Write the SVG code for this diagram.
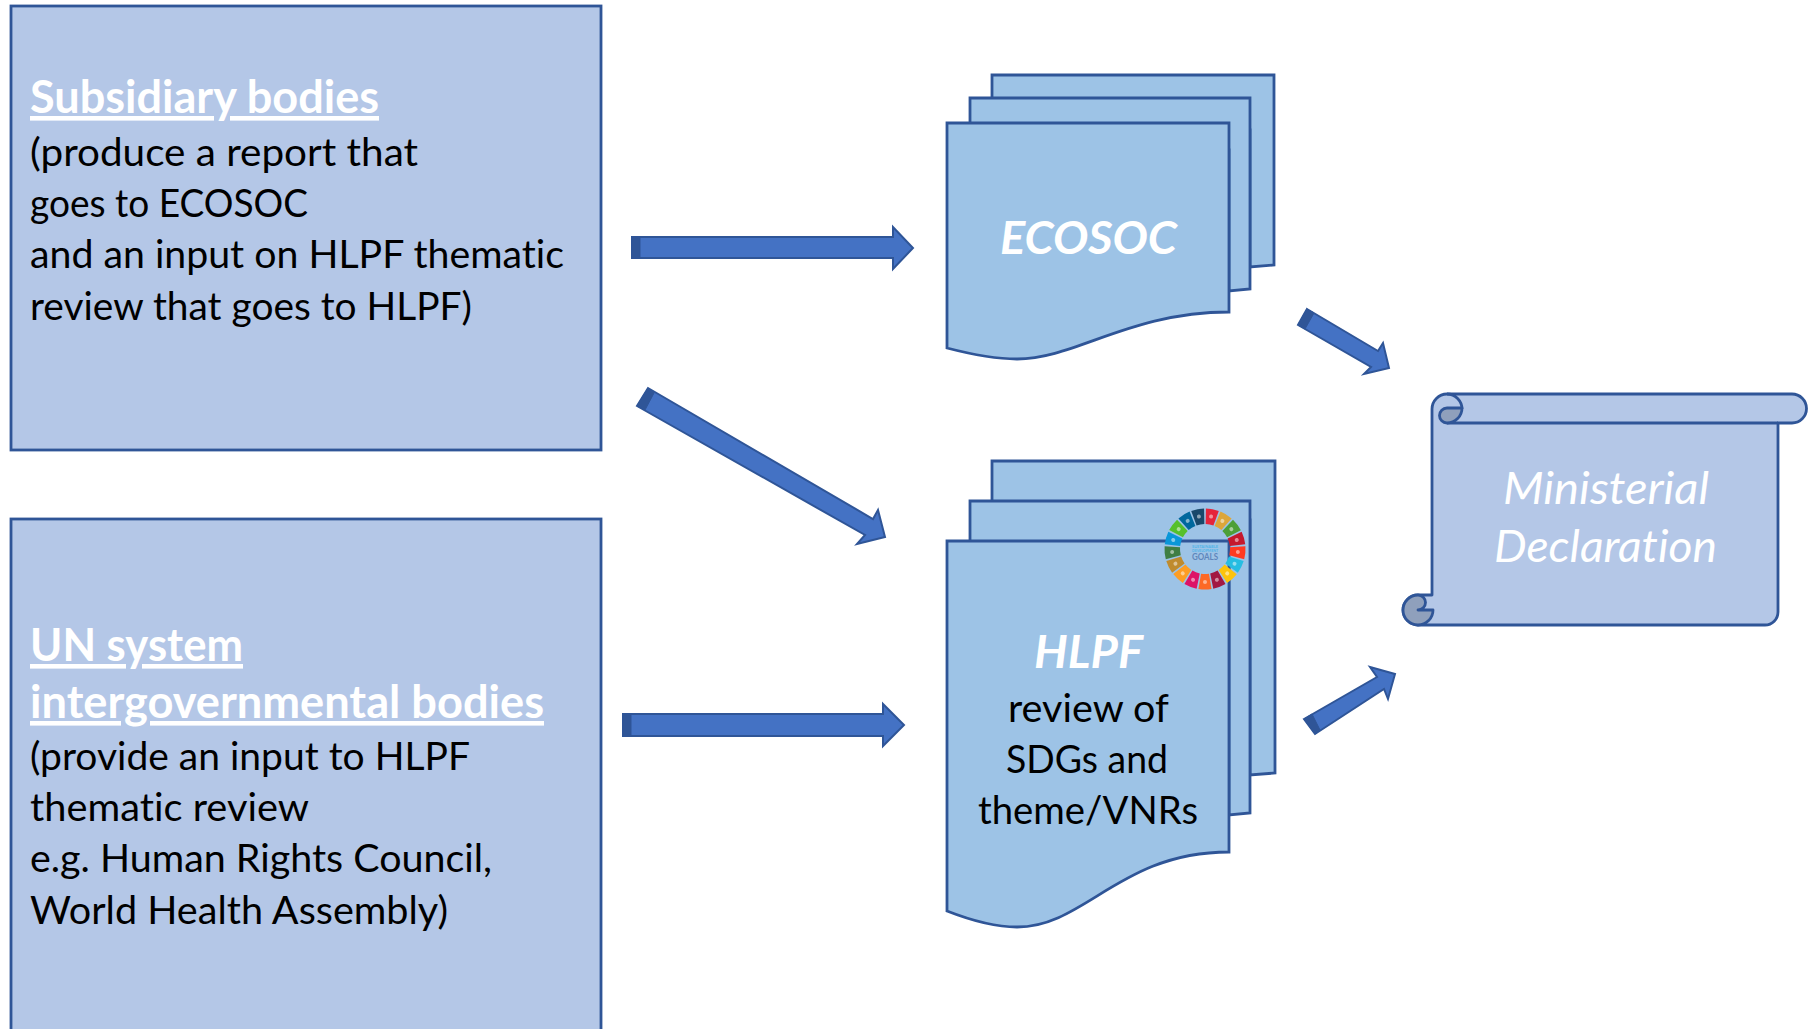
<svg xmlns="http://www.w3.org/2000/svg" xmlns:xlink="http://www.w3.org/1999/xlink" width="1816" height="1029" viewBox="0 0 1816 1029">
<style>
text{font-family:Lato,"Liberation Sans",sans-serif;font-variant-ligatures:none;}
.box{fill:#B4C7E7;stroke:#2F5597;stroke-width:2.8;}
.doc{fill:#9DC3E6;stroke:#2F5597;stroke-width:2.8;stroke-linejoin:miter;}
.scroll{fill:#B4C7E7;stroke:#2F5597;stroke-width:2.8;stroke-linejoin:round;}
.curl{fill:#8FA0BC;stroke:#2F5597;stroke-width:2.8;stroke-linejoin:round;}
.arrow{fill:#4472C4;stroke:#2F5597;stroke-width:2;stroke-linejoin:miter;}
.band{fill:#2F5597;stroke:#2F5597;stroke-width:1;}
.head{font-size:46px;font-weight:700;fill:#fff;text-decoration:underline;}
.body{font-size:39px;fill:#000;}
.title{font-size:46px;font-weight:700;font-style:italic;fill:#fff;}
.decl{font-size:45px;font-style:italic;fill:#fff;}
.seg-i{fill:#fff;opacity:.5;}
</style>
<defs>
<g id="seg">
<path d="M-3.95 -24.7L-6.55 -39.97A40.5 40.5 0 0 1 6.55 -39.97L3.95 -24.7A25 25 0 0 0 -3.95 -24.7Z"/>
<circle class="seg-i" cx="0" cy="-33" r="2"/>
</g>
</defs>

<g id="node-subsidiary">
<rect class="box" x="11" y="6" width="590" height="444"/>
<text class="head" x="30" y="113" textLength="349" lengthAdjust="spacingAndGlyphs">Subsidiary bodies</text>
<text class="body" x="30" y="166" textLength="388" lengthAdjust="spacingAndGlyphs">(produce a report that</text>
<text class="body" x="30" y="217" textLength="278" lengthAdjust="spacingAndGlyphs">goes to ECOSOC</text>
<text class="body" x="30" y="268" textLength="534" lengthAdjust="spacingAndGlyphs">and an input on HLPF thematic</text>
<text class="body" x="30" y="320" textLength="442" lengthAdjust="spacingAndGlyphs">review that goes to HLPF)</text>
</g>

<g id="node-un-system">
<rect class="box" x="11" y="519" width="590" height="530"/>
<text class="head" x="30" y="661" textLength="213" lengthAdjust="spacingAndGlyphs">UN system</text>
<text class="head" x="30" y="718" textLength="514" lengthAdjust="spacingAndGlyphs">intergovernmental bodies</text>
<text class="body" x="30" y="770" textLength="440" lengthAdjust="spacingAndGlyphs">(provide an input to HLPF</text>
<text class="body" x="30" y="821" textLength="279" lengthAdjust="spacingAndGlyphs">thematic review</text>
<text class="body" x="30" y="872" textLength="462" lengthAdjust="spacingAndGlyphs">e.g. Human Rights Council,</text>
<text class="body" x="30" y="924" textLength="418" lengthAdjust="spacingAndGlyphs">World Health Assembly)</text>
</g>

<g id="node-ecosoc">
<path class="doc" d="M992 130V75H1274V265L1250 267V130Z"/>
<path class="doc" d="M970 150V98H1250V289L1229 291V150Z"/>
<path class="doc" d="M947 123H1229V312C1130 312 1075 359 1017 359C995 359 970 354 947 348Z"/>
<text class="title" x="1000" y="254" textLength="177" lengthAdjust="spacingAndGlyphs">ECOSOC</text>
</g>

<g id="node-hlpf">
<path class="doc" d="M992 520V461H1275V773L1250 775V520Z"/>
<path class="doc" d="M970 560V501H1250V813L1229 815V560Z"/>
<path class="doc" d="M947 541H1229V852C1120 852 1085 927 1017 927C995 927 970 920 947 911Z"/>
<text class="title" x="1034" y="668" textLength="109" lengthAdjust="spacingAndGlyphs">HLPF</text>
<text class="body" x="1008" y="722" textLength="161" lengthAdjust="spacingAndGlyphs">review of</text>
<text class="body" x="1006" y="773" textLength="162" lengthAdjust="spacingAndGlyphs">SDGs and</text>
<text class="body" x="978" y="824" textLength="220" lengthAdjust="spacingAndGlyphs">theme/VNRs</text>
<g id="sdg-wheel">
<g transform="translate(1205 549)">
<use xlink:href="#seg" href="#seg" transform="rotate(10.6)" fill="#E5243B"/>
<use xlink:href="#seg" href="#seg" transform="rotate(31.8)" fill="#DDA63A"/>
<use xlink:href="#seg" href="#seg" transform="rotate(53)" fill="#4C9F38"/>
<use xlink:href="#seg" href="#seg" transform="rotate(74.1)" fill="#C5192D"/>
<use xlink:href="#seg" href="#seg" transform="rotate(95.3)" fill="#FF3A21"/>
<use xlink:href="#seg" href="#seg" transform="rotate(116.5)" fill="#26BDE2"/>
<use xlink:href="#seg" href="#seg" transform="rotate(137.7)" fill="#FCC30B"/>
<use xlink:href="#seg" href="#seg" transform="rotate(158.9)" fill="#A21942"/>
<use xlink:href="#seg" href="#seg" transform="rotate(180)" fill="#FD6925"/>
<use xlink:href="#seg" href="#seg" transform="rotate(201.2)" fill="#DD1367"/>
<use xlink:href="#seg" href="#seg" transform="rotate(222.4)" fill="#FD9D24"/>
<use xlink:href="#seg" href="#seg" transform="rotate(243.6)" fill="#BF8B2E"/>
<use xlink:href="#seg" href="#seg" transform="rotate(264.7)" fill="#3F7E44"/>
<use xlink:href="#seg" href="#seg" transform="rotate(285.9)" fill="#0A97D9"/>
<use xlink:href="#seg" href="#seg" transform="rotate(307.1)" fill="#56C02B"/>
<use xlink:href="#seg" href="#seg" transform="rotate(328.3)" fill="#00689D"/>
<use xlink:href="#seg" href="#seg" transform="rotate(349.4)" fill="#19486A"/>
</g>
<text x="1192" y="547.5" font-size="4.2" font-weight="700" fill="#4FB3E8" textLength="26" lengthAdjust="spacingAndGlyphs">SUSTAINABLE</text>
<text x="1192" y="552" font-size="4.2" font-weight="700" fill="#4FB3E8" textLength="26" lengthAdjust="spacingAndGlyphs">DEVELOPMENT</text>
<text x="1192" y="560" font-size="9" font-weight="700" fill="#5F86BC" textLength="26" lengthAdjust="spacingAndGlyphs">GOALS</text>
</g>
</g>

<g id="node-declaration">
<path class="scroll" d="M1778 423V612A13 13 0 0 1 1765 625H1418A15 15 0 0 1 1418 595H1432V409A15 15 0 0 1 1447 394H1792A14.5 14.5 0 0 1 1792 423Z"/>
<path class="scroll" style="fill:none" d="M1447 423H1778"/>
<path class="curl" d="M1447 423A7.5 7.5 0 0 1 1447 408H1462A15 15 0 0 1 1447 423Z"/>
<path class="scroll" style="fill:none" d="M1447 394A15 15 0 0 1 1462 409"/>
<path class="curl" d="M1418 625A15 15 0 0 1 1418 595A7.5 7.5 0 0 1 1418 610H1433A15 15 0 0 1 1418 625Z"/>
<text class="decl" x="1503" y="504" textLength="206" lengthAdjust="spacingAndGlyphs">Ministerial</text>
<text class="decl" x="1494" y="562" textLength="223" lengthAdjust="spacingAndGlyphs">Declaration</text>
</g>

<g id="connectors">
<g id="arrow-subsidiary-ecosoc">
<path class="arrow" d="M632 237H893V227L913 248L893 269V258H632Z"/>
<rect class="band" x="632" y="237" width="8" height="21"/>
</g>
<g id="arrow-subsidiary-hlpf">
<path class="arrow" d="M648 388L873 519L878 510L885 537L857 544L865 535L637 406Z"/>
<path class="band" d="M648 388L654 393L645 410L637 406Z"/>
</g>
<g id="arrow-un-hlpf">
<path class="arrow" d="M623 714H883V704L904 725L883 746V736H623Z"/>
<rect class="band" x="623" y="714" width="8" height="22"/>
</g>
<g id="arrow-ecosoc-decl">
<path class="arrow" d="M1307 309L1378 351L1383 343L1389 368L1364 374L1371 367L1298 325Z"/>
<path class="band" d="M1307 309L1314 313L1305 329L1298 325Z"/>
</g>
<g id="arrow-hlpf-decl">
<path class="arrow" d="M1304 719L1377 677L1370 667L1395 674L1388 699L1384 689L1315 734Z"/>
<path class="band" d="M1304 719L1312 714L1320 730L1315 734Z"/>
</g>
</g>
</svg>
